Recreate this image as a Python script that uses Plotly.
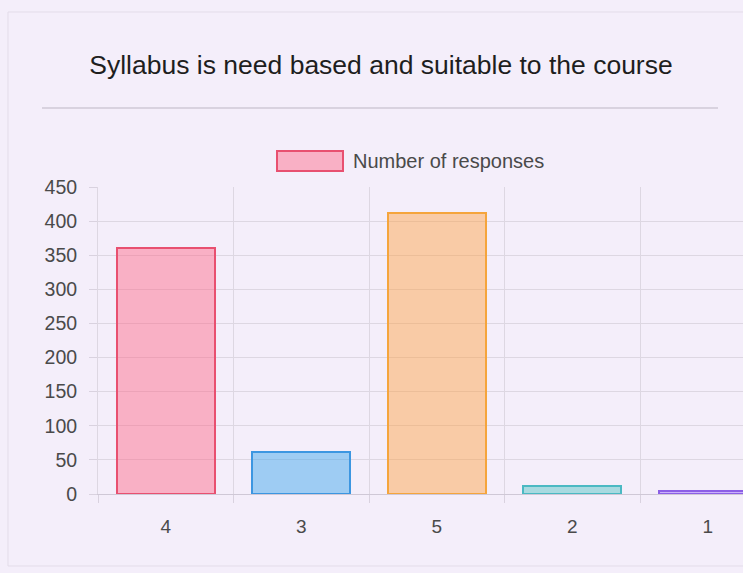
import plotly.graph_objects as go

categories = ["4", "3", "5", "2", "1"]
responses = [360, 62, 412, 12, 4]
fill_colors = ["rgba(255,99,132,0.45)", "rgba(54,162,235,0.45)", "rgba(255,159,64,0.45)",
               "rgba(75,192,192,0.45)", "rgba(153,102,255,0.45)"]
line_colors = ["rgb(232,80,112)", "rgb(60,150,225)", "rgb(245,165,60)",
               "rgb(75,185,195)", "rgb(140,95,230)"]
y_ticks = [0, 50, 100, 150, 200, 250, 300, 350, 400, 450]
title_text = "Syllabus is need based and suitable to the course"
legend_label = "Number of responses"

W, H = 743, 573
L, R, T, B = 98, 0, 187, 79
pw, ph = W - L - R, H - T - B
BG = "#f4eefa"

def px(x):
    return (x - L) / pw

def py(y):
    return (H - B - y) / ph

font = "Liberation Sans, Arial, Helvetica, sans-serif"

fig = go.Figure()
fig.add_trace(go.Bar(
    x=categories, y=responses, name=legend_label, width=0.72,
    marker=dict(color=fill_colors, line=dict(color=line_colors, width=2)),
    showlegend=False,
))

fig.update_layout(
    width=W, height=H,
    margin=dict(l=L, r=R, t=T, b=B, pad=0),
    paper_bgcolor=BG, plot_bgcolor=BG,
    font=dict(family=font, color="#4a4a4a", size=19),
    title=dict(text=title_text, x=381 / W, xanchor="center", xref="container",
               y=1 - 65 / H, yanchor="middle", yref="container",
               font=dict(family=font, size=26.5, color="#1e1e1e")),
    xaxis=dict(type="category", range=[-0.5, 4.26], tickson="boundaries",
               ticks="outside", ticklen=8, tickcolor="#d9d2df",
               showgrid=True, gridcolor="#ddd7e2", gridwidth=1,
               showline=True, linecolor="#cfc8d6", linewidth=1,
               ticklabelstandoff=15, tickfont=dict(size=19, color="#4a4a4a")),
    yaxis=dict(range=[0, 450], tickvals=y_ticks, ticks="outside", ticklen=8,
               tickcolor="#d9d2df", showgrid=True, gridcolor="#ddd7e2",
               zeroline=False, showline=True, linecolor="#ddd7e2",
               ticklabelstandoff=8, tickfont=dict(size=19.5, color="#4a4a4a")),
    bargap=0,
)

shapes = [
    dict(type="line", xref="paper", yref="paper", x0=px(42), x1=px(718), y0=py(108), y1=py(108),
         line=dict(color="#bdb6c4", width=1)),
    dict(type="rect", xref="paper", yref="paper", x0=px(277), x1=px(343), y0=py(171), y1=py(151),
         fillcolor="rgba(255,99,132,0.45)", line=dict(color="rgb(232,80,112)", width=2)),
    dict(type="rect", xref="paper", yref="paper", x0=px(8), x1=px(790), y0=py(566), y1=py(12),
         line=dict(color="#e3dce9", width=1), fillcolor="rgba(0,0,0,0)", layer="below"),
]
fig.update_layout(shapes=shapes)
fig.add_annotation(text=legend_label, xref="paper", yref="paper", x=px(351), y=py(161),
                   xanchor="left", yanchor="middle", showarrow=False,
                   font=dict(family=font, size=20, color="#4a4a4a"))

fig.write_html(
    "out.html",
    config={"displayModeBar": False},
    post_script=(
        "document.body.style.margin='0';"
        "document.body.style.padding='0';"
        "document.body.style.overflow='hidden';"
        "document.body.style.background='" + BG + "';"
    ),
)
